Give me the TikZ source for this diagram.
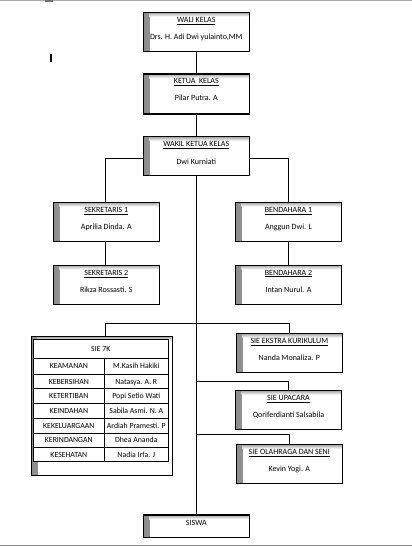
\documentclass[tikz,border=0pt]{standalone}
\usepackage{fontspec}
\setmainfont{Carlito}
\begin{document}
\begin{tikzpicture}[x=1pt,y=-1pt,
  orgbox/.style={draw, line width=1.3pt, minimum width=106pt, minimum height=39pt, inner sep=0pt,
    path picture={
      \shade[left color=black!45, right color=white] (path picture bounding box.north west) rectangle ([xshift=6pt]path picture bounding box.south west);
      \shade[top color=black!35, bottom color=white] ([xshift=6pt]path picture bounding box.north west) rectangle ([yshift=-4pt]path picture bounding box.north east);
    }},
  txt/.style={font=\fontsize{8}{9.6}\selectfont, inner sep=0pt, anchor=base},
  ttxt/.style={font=\fontsize{7.8}{9.4}\selectfont, inner sep=0pt, anchor=base},
  conn/.style={line width=0.9pt},
  grid/.style={line width=0.8pt}]
\useasboundingbox (0,0) rectangle (412,546);
% page edges
\draw[black!35, line width=1pt] (0,0.5) -- (412,0.5);
\fill[black!55] (45,0) rectangle (53,1.6);
\draw[black!45, line width=1.2pt] (0,545.2) -- (412,545.2);
\fill (50,54.3) rectangle (51.8,62);
% boxes
\node[orgbox] (wali) at (196.3,32) {};
\node[orgbox, minimum height=40pt] (ketua) at (196.3,94) {};
\node[orgbox] (wakil) at (196.3,156.3) {};
\node[orgbox] (sek1) at (106.3,222) {};
\node[orgbox] (sek2) at (106.3,284.8) {};
\node[orgbox] (ben1) at (288.5,222) {};
\node[orgbox] (ben2) at (288.5,284.8) {};
\node[orgbox, minimum height=38.6pt] (ekstra) at (289.3,353) {};
\node[orgbox, minimum height=38.6pt] (upacara) at (288.5,410) {};
\node[orgbox, minimum height=38.6pt] (olahraga) at (289.3,464) {};
\node[orgbox, minimum height=22.3pt] (siswa) at (196.3,526.2) {};
\node[orgbox, minimum width=141pt, minimum height=138.6pt] (sie7k) at (101.8,406) {};
% texts
\node[txt] (waliT) at ([yshift=-10.6pt]wali.north) {\underline{WALI KELAS}};
\node[txt] (waliN) at ([yshift=-28pt]wali.north) {Drs. H. Adi Dwi yulainto,MM};
\node[txt] (ketuaT) at ([yshift=-10.6pt]ketua.north) {\underline{KETUA\ \ KELAS}};
\node[txt] (ketuaN) at ([yshift=-27.6pt]ketua.north) {Pilar Putra. A};
\node[txt] (wakilT) at ([yshift=-10.6pt]wakil.north) {\underline{WAKIL KETUA KELAS}};
\node[txt] (wakilN) at ([yshift=-28pt]wakil.north) {Dwi Kurniati};
\node[txt] (sek1T) at ([yshift=-10.6pt]sek1.north) {\underline{SEKRETARIS 1}};
\node[txt] (sek1N) at ([yshift=-27.6pt]sek1.north) {Aprilia Dinda. A};
\node[txt] (sek2T) at ([yshift=-10.6pt]sek2.north) {\underline{SEKRETARIS 2}};
\node[txt] (sek2N) at ([yshift=-27.6pt]sek2.north) {Rikza Rossasti. S};
\node[txt] (ben1T) at ([yshift=-10.6pt]ben1.north) {\underline{BENDAHARA 1}};
\node[txt] (ben1N) at ([yshift=-27.6pt]ben1.north) {Anggun Dwi. L};
\node[txt] (ben2T) at ([yshift=-10.6pt]ben2.north) {\underline{BENDAHARA 2}};
\node[txt] (ben2N) at ([yshift=-27.6pt]ben2.north) {Intan Nurul. A};
\node[txt] (ekstraT) at ([yshift=-10.6pt]ekstra.north) {\underline{SIE EKSTRA KURIKULUM}};
\node[txt] (ekstraN) at ([yshift=-27.6pt]ekstra.north) {Nanda Monaliza. P};
\node[txt] (upacaraT) at ([yshift=-10.6pt]upacara.north) {\underline{SIE UPACARA}};
\node[txt] (upacaraN) at ([yshift=-27.6pt]upacara.north) {Qoriferdianti Salsabila};
\node[txt] (olahragaT) at ([yshift=-10.6pt]olahraga.north) {\underline{SIE OLAHRAGA DAN SENI}};
\node[txt] (olahragaN) at ([yshift=-27.6pt]olahraga.north) {Kevin Yogi. A};
\node[txt] (siswaT) at ([yshift=-10.6pt]siswa.north) {SISWA};
% table inside SIE 7K
\fill[white] (33.3,339.3) rectangle (168.3,461.7);
\draw[grid] (33.3,339.3) rectangle (168.3,461.7);
\foreach \yy in {358.3,374,388.7,403.7,418.7,433,447.3} \draw[grid] (33.3,\yy) -- (168.3,\yy);
\draw[grid] (104.3,358.3) -- (104.3,461.7);
\node[ttxt] (head) at (100.8,351.4) {SIE 7K};
\begin{scope}
\clip (104.7,358) rectangle (167.9,462);
\foreach \yy/\nm [count=\i] in {366.2/M.Kasih Hakiki, 381.4/Natasya. A. R, 396.2/Popi Setio Wati, 411.2/Sabila Asmi. N. A, 425.9/Ardiah Pramesti. P, 440.2/Dhea Ananda, 454.5/Nadia Irfa. J}
  \node[ttxt] (v\i) at (136.3,\yy+2.7) {\nm};
\end{scope}
\foreach \yy/\nm [count=\i] in {366.2/KEAMANAN, 381.4/KEBERSIHAN, 396.2/KETERTIBAN, 411.2/KEINDAHAN, 425.9/KEKELUARGAAN, 440.2/KERINDANGAN, 454.5/KESEHATAN}
  \node[ttxt] (r\i) at (68.8,\yy+2.7) {\nm};
% connectors
\draw[conn] (wali.south) -- (ketua.north);
\draw[conn] (ketua.south) -- (wakil.north);
\draw[conn] ([yshift=-2.4pt]wakil.west) -| ([xshift=-1.3pt]sek1.north);
\draw[conn] ([yshift=-2.4pt]wakil.east) -| (ben1.north);
\draw[conn] ([xshift=-1.3pt]sek1.south) -- ([xshift=-1.3pt]sek2.north);
\draw[conn] (ben1.south) -- (ben2.north);
\draw[conn] (wakil.south) -- (siswa.north);
\coordinate (b1) at (wakil.south |- 0,323.3);
\coordinate (b2) at (wakil.south |- 0,381.3);
\coordinate (b3) at (wakil.south |- 0,434.3);
\draw[conn] (b1) -| ([xshift=3.5pt]sie7k.north);
\draw[conn] (b1) -| (ekstra.north);
\draw[conn] (b2) -| (upacara.north);
\draw[conn] (b3) -| (olahraga.north);
\end{tikzpicture}
\end{document}
